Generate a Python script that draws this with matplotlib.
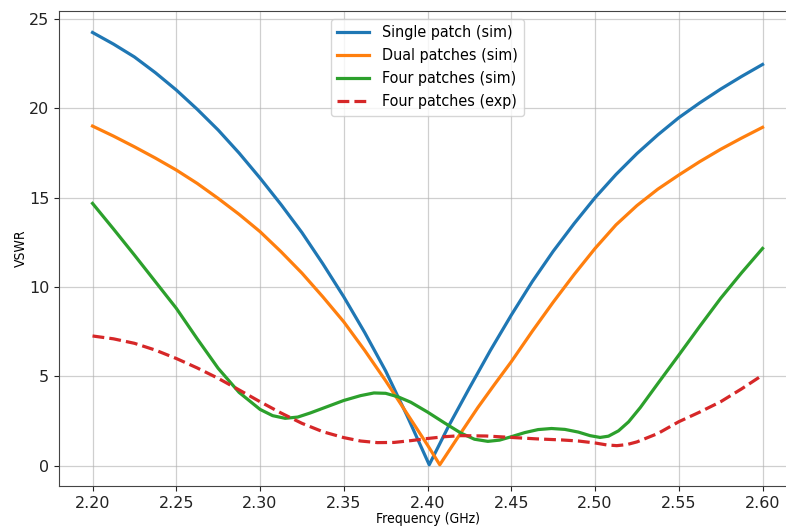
import matplotlib

matplotlib.use("Agg")
import matplotlib.pyplot as plt

# frequencies (GHz) and VSWR values
single_freq = [2.2000, 2.2125, 2.2250, 2.2375, 2.2500, 2.2625, 2.2750, 2.2875, 2.3000,
               2.3125, 2.3250, 2.3375, 2.3500, 2.3625, 2.3750, 2.3875, 2.4010, 2.4125,
               2.4250, 2.4375, 2.4500, 2.4625, 2.4750, 2.4875, 2.5000, 2.5125, 2.5250,
               2.5375, 2.5500, 2.5625, 2.5750, 2.5875, 2.6000]
single_vswr = [24.25, 23.60, 22.88, 22.00, 21.03, 19.95, 18.79, 17.50, 16.10,
               14.62, 13.05, 11.30, 9.45, 7.45, 5.30, 2.85, 0.05, 2.20,
               4.35, 6.45, 8.43, 10.30, 12.00, 13.55, 15.00, 16.30, 17.47,
               18.52, 19.48, 20.31, 21.08, 21.79, 22.46]

dual_freq = [2.2000, 2.2125, 2.2250, 2.2375, 2.2500, 2.2625, 2.2750, 2.2875, 2.3000,
             2.3125, 2.3250, 2.3375, 2.3500, 2.3625, 2.3750, 2.3875, 2.4000, 2.4073,
             2.4175, 2.4300, 2.4400, 2.4500, 2.4625, 2.4750, 2.4875, 2.5000, 2.5125,
             2.5250, 2.5375, 2.5500, 2.5625, 2.5750, 2.5875, 2.6000]
dual_vswr = [19.01, 18.45, 17.85, 17.22, 16.55, 15.80, 14.96, 14.07, 13.10,
             11.98, 10.78, 9.45, 8.05, 6.45, 4.75, 2.95, 1.15, 0.05,
             1.50, 3.25, 4.55, 5.82, 7.52, 9.15, 10.70, 12.16, 13.48,
             14.56, 15.48, 16.27, 17.02, 17.71, 18.34, 18.94]

four_freq = [2.2000, 2.2125, 2.2250, 2.2375, 2.2500, 2.2625, 2.2750, 2.2875, 2.3000,
             2.3075, 2.3150, 2.3225, 2.3300, 2.3400, 2.3500, 2.3600, 2.3680, 2.3750,
             2.3825, 2.3900, 2.4000, 2.4100, 2.4200, 2.4280, 2.4360, 2.4430, 2.4500,
             2.4580, 2.4660, 2.4740, 2.4820, 2.4900, 2.4970, 2.5030, 2.5080, 2.5140,
             2.5200, 2.5270, 2.5375, 2.5500, 2.5625, 2.5750, 2.5875, 2.6000]
four_vswr = [14.68, 13.25, 11.79, 10.30, 8.81, 7.10, 5.45, 4.10, 3.15,
             2.80, 2.65, 2.72, 2.95, 3.30, 3.65, 3.92, 4.07, 4.05,
             3.85, 3.55, 3.00, 2.40, 1.82, 1.48, 1.36, 1.43, 1.62,
             1.85, 2.02, 2.08, 2.03, 1.88, 1.68, 1.58, 1.65, 1.95,
             2.45, 3.25, 4.60, 6.19, 7.80, 9.37, 10.80, 12.16]

exp_freq = [2.2000, 2.2125, 2.2250, 2.2375, 2.2500, 2.2625, 2.2750, 2.2875, 2.3000,
            2.3125, 2.3250, 2.3375, 2.3500, 2.3600, 2.3700, 2.3800, 2.3900, 2.4000,
            2.4100, 2.4200, 2.4350, 2.4500, 2.4650, 2.4800, 2.4900, 2.5000, 2.5070,
            2.5130, 2.5190, 2.5250, 2.5375, 2.5500, 2.5625, 2.5750, 2.5875, 2.6000]
exp_vswr = [7.26, 7.10, 6.85, 6.47, 6.00, 5.47, 4.89, 4.24, 3.58,
            2.95, 2.37, 1.90, 1.57, 1.38, 1.29, 1.30, 1.40, 1.52,
            1.62, 1.68, 1.66, 1.58, 1.50, 1.44, 1.38, 1.27, 1.16,
            1.12, 1.18, 1.33, 1.80, 2.46, 3.00, 3.58, 4.30, 5.07]

x_ticks = [2.20, 2.25, 2.30, 2.35, 2.40, 2.45, 2.50, 2.55, 2.60]
y_ticks = [0, 5, 10, 15, 20, 25]

fig = plt.figure(figsize=(7.86, 5.28), dpi=100)
ax = fig.add_axes([0.0751, 0.0795, 0.9377, 0.8996])

ax.plot(single_freq, single_vswr, color="#1f77b4", lw=2.3, label="Single patch (sim)")
ax.plot(dual_freq, dual_vswr, color="#ff7f0e", lw=2.3, label="Dual patches (sim)")
ax.plot(four_freq, four_vswr, color="#2ca02c", lw=2.3, label="Four patches (sim)")
ax.plot(exp_freq, exp_vswr, color="#d62728", lw=2.3, ls="--", label="Four patches (exp)")

ax.set_xlim(2.18, 2.62)
ax.set_ylim(-1.14, 25.45)
ax.set_xticks(x_ticks)
ax.set_xticklabels([f"{t:.2f}" for t in x_ticks])
ax.set_yticks(y_ticks)
ax.tick_params(labelsize=11.5, colors="#222222")
ax.spines["right"].set_visible(False)
for side in ["left", "top", "bottom"]:
    ax.spines[side].set_color("#444444")

ax.grid(True, color="#b0b0b0", alpha=0.6, lw=0.9)
ax.set_xlabel("Frequency (GHz)", fontsize=10, fontstretch="condensed", labelpad=1)
ax.set_ylabel("VSWR", fontsize=10, fontstretch="condensed", labelpad=1)

ax.legend(loc="upper center", prop={"size": 11.5, "stretch": "condensed"})

plt.savefig("out.png", dpi=100)
